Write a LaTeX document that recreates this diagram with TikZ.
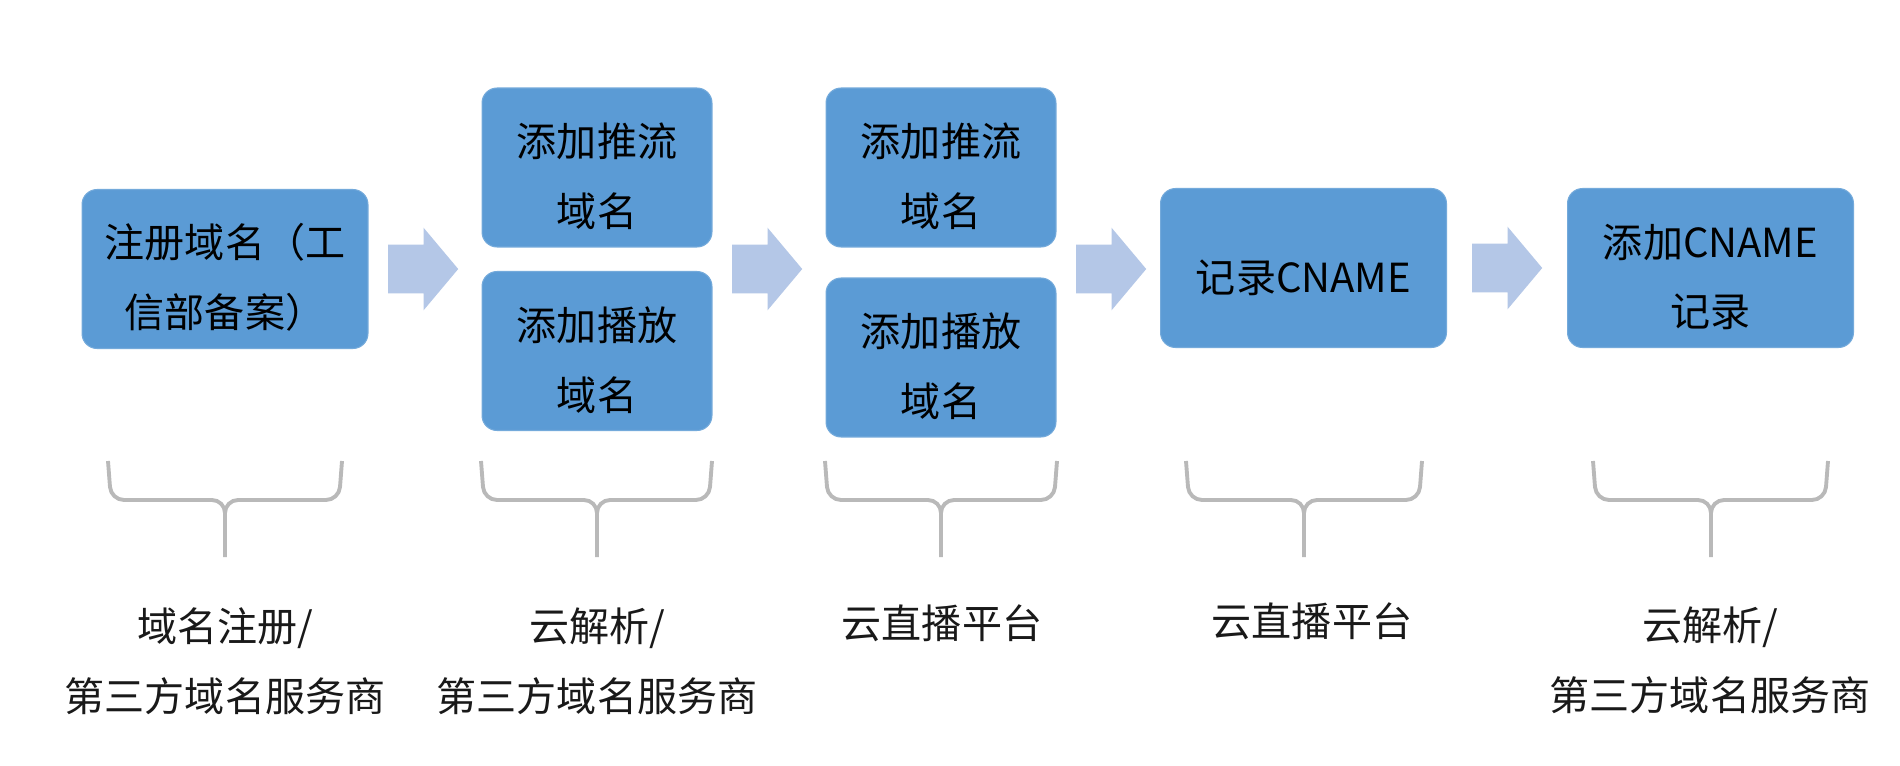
\documentclass[tikz,border=0pt]{standalone}
\usepackage{fontspec}
\setmainfont{Noto Sans CJK SC}
\usetikzlibrary{shapes.arrows}
\definecolor{boxblue}{RGB}{91,155,213}
\definecolor{flowblue}{RGB}{180,199,231}
\definecolor{bracegray}{RGB}{185,185,185}

\begin{document}
\begin{tikzpicture}[
      x=0.02cm, y=-0.02cm,
      font=\fontsize{22.8}{39.8}\selectfont,
      task/.style={rectangle, rounded corners=0.3cm, fill=boxblue, draw=boxblue!85!white, line width=0.6pt, align=center, inner sep=0pt, text=black},
      wide/.style={task, minimum width=5.72cm, minimum height=3.18cm},
      narrow/.style={task, minimum width=4.6cm, minimum height=3.18cm},
      oneline/.style={text height=29.5pt},
      twoline/.style={text height=69pt},
      flow/.style={single arrow, fill=flowblue, draw=none, inner sep=0pt, inner ysep=0.48cm, minimum height=1.4cm, single arrow head extend=0.34cm, single arrow tip angle=100},
      bracket/.style={draw=bracegray, line width=2.2pt, rounded corners=0.26cm},
      owner/.style={align=center, text=black!90}
  ]

  % page
  \fill[white] (0,0) rectangle (1900,765);
  \useasboundingbox (0,0) rectangle (1900,765);

  % Steps
  \node[wide, twoline] (reg) at (225,269) {注册域名（工\\信部备案）};
  \node[narrow, twoline] (dnspush) at (597,167.5) {添加推流\\域名};
  \node[narrow, twoline] (dnsplay) at (597,351) {添加播放\\域名};
  \node[narrow, twoline] (livepush) at (941,167.5) {添加推流\\域名};
  \node[narrow, twoline] (liveplay) at (941,357.5) {添加播放\\域名};
  \node[wide, oneline] (rec) at (1303.5,268) {记录CNAME};
  \node[wide, twoline] (addrec) at (1710.5,268) {添加CNAME\\记录};

  % Block arrows
  \node[flow] (f1) at (413,269) {};
  \node[flow] (f2) at (757,269) {};
  \node[flow] (f3) at (1101,269) {};
  \node[flow] (f4) at (1497,268) {};

  % Braces
  \draw[bracket] (108,461) -- (111,500) -- (225,500) -- (225,557)
                 (342,461) -- (339,500) -- (225,500) -- (225,557);
  \draw[bracket] (481,461) -- (484,500) -- (597,500) -- (597,557)
                 (712,461) -- (709,500) -- (597,500) -- (597,557);
  \draw[bracket] (825,461) -- (828,500) -- (941,500) -- (941,557)
                 (1057,461) -- (1054,500) -- (941,500) -- (941,557);
  \draw[bracket] (1186,461) -- (1189,500) -- (1304,500) -- (1304,557)
                 (1422,461) -- (1419,500) -- (1304,500) -- (1304,557);
  \draw[bracket] (1593,461) -- (1596,500) -- (1711,500) -- (1711,557)
                 (1828,461) -- (1825,500) -- (1711,500) -- (1711,557);

  % Who does it
  \node[owner] (own1) at (225,661) {域名注册/\\第三方域名服务商};
  \node[owner] (own2) at (597,661) {云解析/\\第三方域名服务商};
  \node[owner] (own3) at (942,623) {云直播平台};
  \node[owner] (own4) at (1312,621) {云直播平台};
  \node[owner] (own5) at (1710,660) {云解析/\\第三方域名服务商};

\end{tikzpicture}
\end{document}
